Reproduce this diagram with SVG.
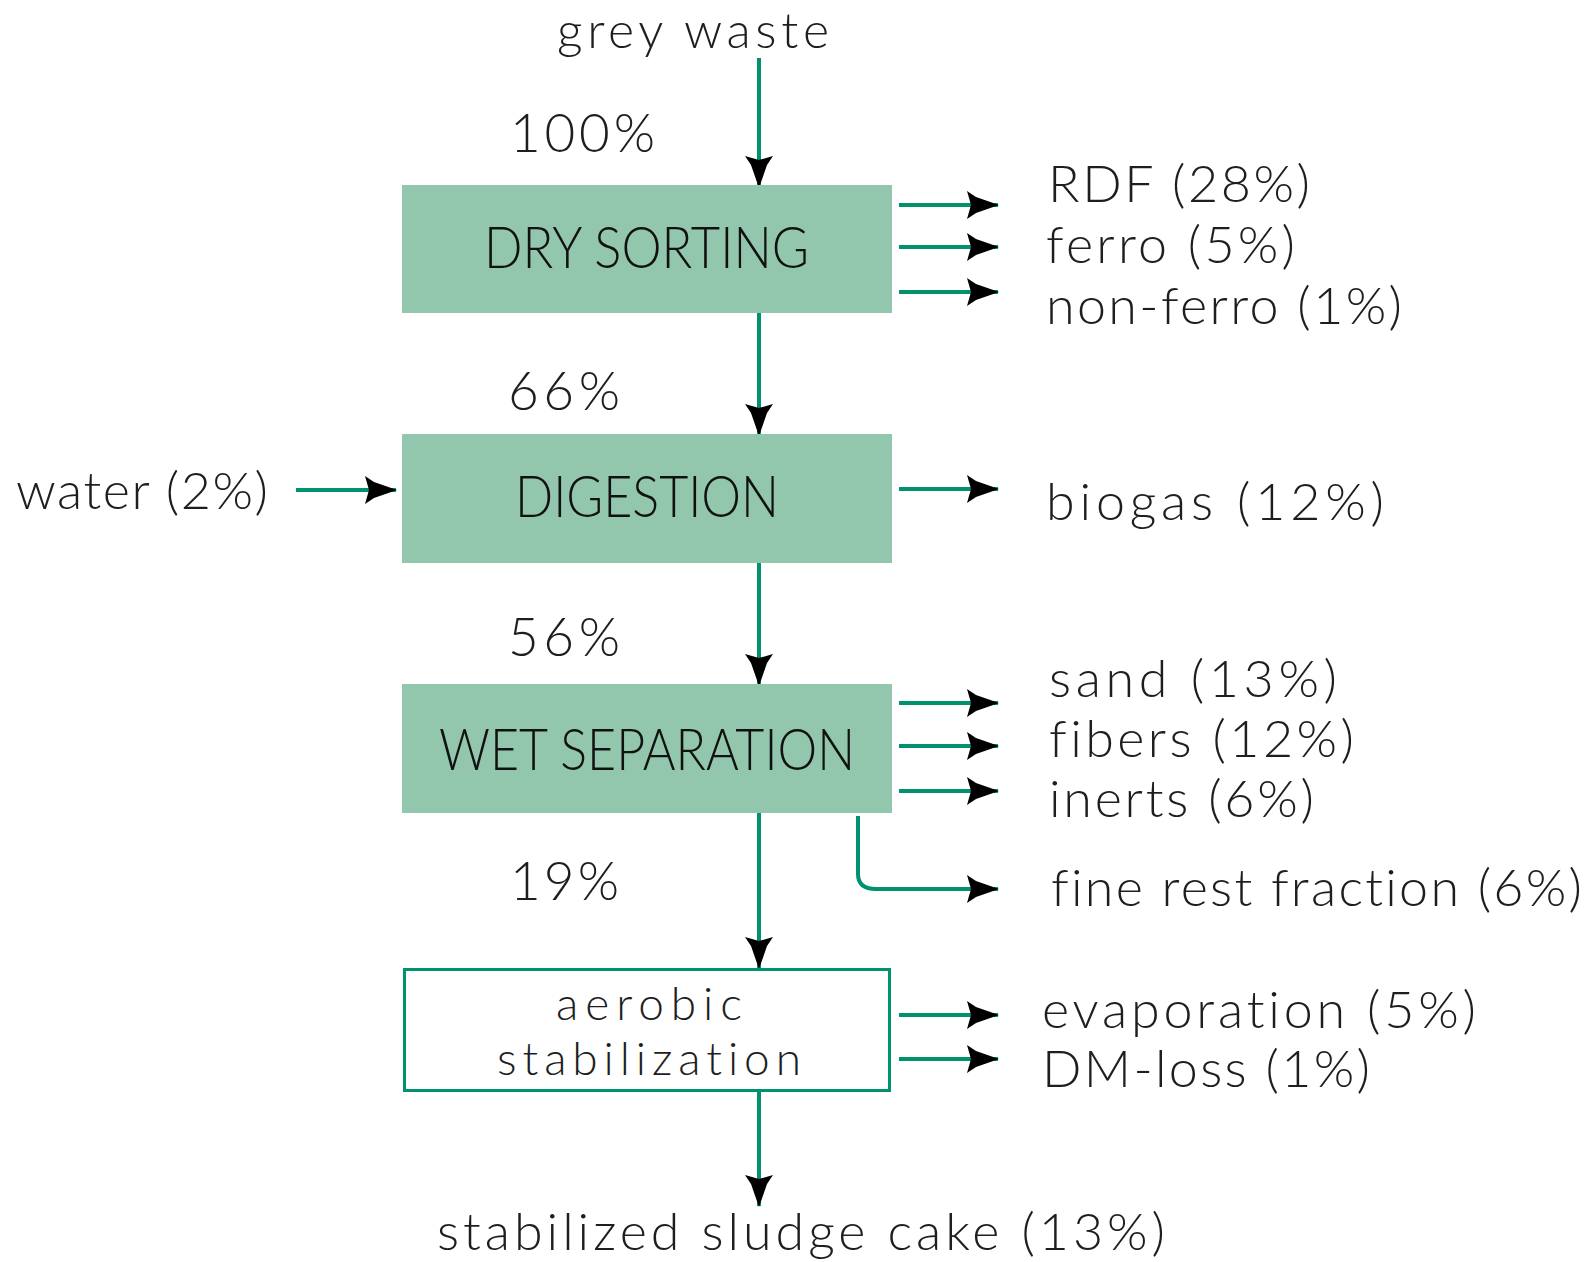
<svg xmlns="http://www.w3.org/2000/svg" width="1593" height="1262" viewBox="0 0 1593 1262">
<style>
text{font-family:"Lato","Liberation Sans",Arial,sans-serif;font-weight:300;fill:#1e1e1e;font-variant-ligatures:none;font-feature-settings:"liga" 0,"clig" 0;}
.lbl{font-size:52px;}
.pct{font-size:53px;}
.box{fill:#92c7ae;}
.boxt{font-size:58px;fill:#111;}
.obox{fill:#fff;stroke:#00916e;stroke-width:3;}
.con{stroke:#00916e;stroke-width:4;fill:none;marker-end:url(#ah);}
</style>
<defs>
<marker id="ah" markerUnits="userSpaceOnUse" viewBox="0 0 32 28" refX="31" refY="14" markerWidth="32" markerHeight="28" orient="auto">
<path d="M0,0 L9,6 L32,14 L9,22 L0,28 L4,14 Z" fill="#000"/>
</marker>
</defs>
<rect width="1593" height="1262" fill="#fff"/>
<g id="connectors">
<line class="con" x1="759" y1="58" x2="759" y2="187"/>
<line class="con" x1="759" y1="313" x2="759" y2="435"/>
<line class="con" x1="759" y1="563" x2="759" y2="685"/>
<line class="con" x1="759" y1="813" x2="759" y2="968"/>
<line class="con" x1="759" y1="1092" x2="759" y2="1206"/>
<line class="con" x1="899" y1="205" x2="998" y2="205"/>
<line class="con" x1="899" y1="247" x2="998" y2="247"/>
<line class="con" x1="899" y1="292" x2="998" y2="292"/>
<line class="con" x1="296" y1="490" x2="396" y2="490"/>
<line class="con" x1="899" y1="489" x2="998" y2="489"/>
<line class="con" x1="899" y1="703" x2="998" y2="703"/>
<line class="con" x1="899" y1="746" x2="998" y2="746"/>
<line class="con" x1="899" y1="791" x2="998" y2="791"/>
<path class="con" d="M858,816 L858,874 Q858,889 876,889 L998,889"/>
<line class="con" x1="899" y1="1015" x2="998" y2="1015"/>
<line class="con" x1="899" y1="1059" x2="998" y2="1059"/>
</g>
<g id="dry-sorting">
<rect class="box" x="402" y="185" width="490" height="128"/>
<text class="boxt" x="484" y="268" textLength="325" lengthAdjust="spacingAndGlyphs">DRY SORTING</text>
</g>
<g id="digestion">
<rect class="box" x="402" y="434" width="490" height="129"/>
<text class="boxt" x="515" y="517" textLength="264" lengthAdjust="spacingAndGlyphs">DIGESTION</text>
</g>
<g id="wet-separation">
<rect class="box" x="402" y="684" width="490" height="129"/>
<text class="boxt" x="439" y="770" textLength="416" lengthAdjust="spacingAndGlyphs">WET SEPARATION</text>
</g>
<g id="aerobic-stabilization">
<rect class="obox" x="404.5" y="969.5" width="485" height="121"/>
<text class="lbl" x="556" y="1020" textLength="186" lengthAdjust="spacing" style="font-size:46px">aerobic</text>
<text class="lbl" x="497" y="1075" textLength="304" lengthAdjust="spacing" style="font-size:46px">stabilization</text>
</g>
<g id="labels">
<text class="lbl" x="557" y="48" textLength="272" lengthAdjust="spacing" style="font-size:50px">grey waste</text>
<text class="pct" x="510" y="152" textLength="145" lengthAdjust="spacing">100%</text>
<text class="pct" x="508" y="410" textLength="112" lengthAdjust="spacing">66%</text>
<text class="pct" x="508" y="656" textLength="112" lengthAdjust="spacing">56%</text>
<text class="pct" x="510" y="900" textLength="109" lengthAdjust="spacing">19%</text>
<text class="lbl" x="16" y="509" textLength="252" lengthAdjust="spacing">water (2%)</text>
<text class="lbl" x="1048" y="202" textLength="262" lengthAdjust="spacing">RDF (28%)</text>
<text class="lbl" x="1046" y="263" textLength="249" lengthAdjust="spacing">ferro (5%)</text>
<text class="lbl" x="1046" y="324" textLength="356" lengthAdjust="spacing">non-ferro (1%)</text>
<text class="lbl" x="1046" y="520" textLength="338" lengthAdjust="spacing">biogas (12%)</text>
<text class="lbl" x="1049" y="697" textLength="288" lengthAdjust="spacing">sand (13%)</text>
<text class="lbl" x="1049" y="757" textLength="305" lengthAdjust="spacing">fibers (12%)</text>
<text class="lbl" x="1049" y="817" textLength="265" lengthAdjust="spacing">inerts (6%)</text>
<text class="lbl" x="1051" y="906" textLength="531" lengthAdjust="spacing">fine rest fraction (6%)</text>
<text class="lbl" x="1042" y="1028" textLength="434" lengthAdjust="spacing">evaporation (5%)</text>
<text class="lbl" x="1042" y="1087" textLength="328" lengthAdjust="spacing">DM-loss (1%)</text>
<text class="lbl" x="437" y="1250" textLength="728" lengthAdjust="spacing">stabilized sludge cake (13%)</text>
</g>
</svg>
